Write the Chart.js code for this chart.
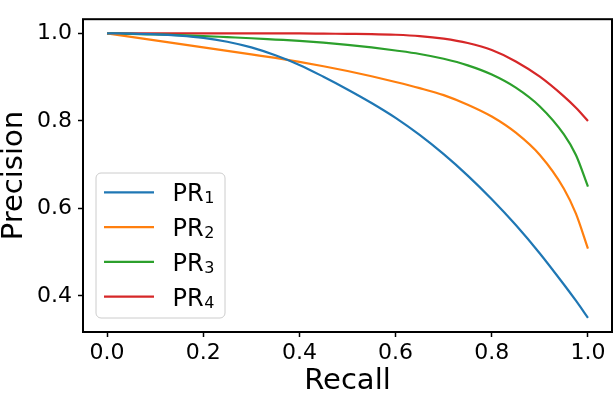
<!DOCTYPE html>
<html>
<head>
<meta charset="utf-8">
<script src="https://cdn.jsdelivr.net/npm/chart.js@4.4.0/dist/chart.umd.min.js"></script>
<style>
    html, body { margin: 0; padding: 0; background: #fff; }
    #wrap { width: 614px; height: 396px; }
</style>
</head>
<body>
<div id="wrap"><canvas id="prChart" width="614" height="396"></canvas></div>
<script>
// values
const recall = [0, 0.05, 0.1, 0.15, 0.2, 0.25, 0.3, 0.35, 0.4, 0.45, 0.5, 0.55, 0.6, 0.65, 0.7, 0.75, 0.8, 0.85, 0.9, 0.95, 0.975, 1.0];
const pr1 = [1.0, 0.9995, 0.998, 0.995, 0.990, 0.981, 0.968, 0.950, 0.928, 0.901, 0.872, 0.841, 0.807, 0.768, 0.724, 0.675, 0.621, 0.562, 0.497, 0.426, 0.389, 0.35];
const pr2 = [1.0, 0.992, 0.984, 0.976, 0.968, 0.960, 0.952, 0.944, 0.935, 0.925, 0.914, 0.902, 0.889, 0.875, 0.859, 0.837, 0.810, 0.773, 0.722, 0.645, 0.588, 0.508];
const pr3 = [1.0, 0.999, 0.9975, 0.996, 0.994, 0.9915, 0.989, 0.986, 0.983, 0.979, 0.974, 0.968, 0.961, 0.953, 0.942, 0.927, 0.906, 0.876, 0.833, 0.769, 0.722, 0.65];
const pr4 = [1.0, 1.0, 1.0, 1.0, 1.0, 1.0, 1.0, 1.0, 1.0, 0.9995, 0.999, 0.9985, 0.997, 0.994, 0.988, 0.978, 0.962, 0.936, 0.901, 0.856, 0.830, 0.80];

const seriesBase = 'PR';
const seriesSub = ['1', '2', '3', '4'];
const colors = ['#1f77b4', '#ff7f0e', '#2ca02c', '#d62728'];
const xTicks = [0, 0.2, 0.4, 0.6, 0.8, 1.0];
const yTicks = [0.4, 0.6, 0.8, 1.0];

const FONT = 'DejaVu Sans';

const series = [pr1, pr2, pr3, pr4];
const datasets = series.map((vals, i) => ({
    label: seriesBase + seriesSub[i],
    data: recall.map((r, j) => ({ x: r, y: vals[j] })),
    borderColor: colors[i],
    borderWidth: 2.2,
    pointRadius: 0,
    fill: false,
    cubicInterpolationMode: 'monotone'
}));

// matplotlib style frame + legend box in lower left
const framePlugin = {
    id: 'frame',
    afterDraw(chart) {
        const { ctx, chartArea: a } = chart;
        ctx.save();
        ctx.strokeStyle = '#000';
        ctx.lineWidth = 2;
        ctx.strokeRect(a.left, a.top, a.right - a.left, a.bottom - a.top);

        // legend
        const bx = 96, by = 173, bw = 129, bh = 145, rad = 5;
        ctx.beginPath();
        ctx.roundRect(bx, by, bw, bh, rad);
        ctx.fillStyle = 'rgba(255,255,255,0.8)';
        ctx.fill();
        ctx.strokeStyle = '#cccccc';
        ctx.lineWidth = 1;
        ctx.stroke();

        chart.data.datasets.forEach((ds, i) => {
            const y = 192.3 + i * 34.8;
            ctx.beginPath();
            ctx.moveTo(104, y);
            ctx.lineTo(154, y);
            ctx.strokeStyle = ds.borderColor;
            ctx.lineWidth = 2.2;
            ctx.stroke();

            ctx.fillStyle = '#000';
            ctx.textBaseline = 'alphabetic';
            ctx.textAlign = 'left';
            ctx.font = `24px "${FONT}"`;
            ctx.fillText(seriesBase, 172.5, y + 9);
            const w = ctx.measureText(seriesBase).width;
            ctx.font = `16px "${FONT}"`;
            ctx.fillText(seriesSub[i], 172.5 + w + 0.5, y + 11);
        });
        ctx.restore();
    }
};

new Chart(document.getElementById('prChart').getContext('2d'), {
    type: 'line',
    data: { datasets },
    options: {
        responsive: false,
        animation: false,
        layout: { padding: { top: 2, right: 2, left: 0, bottom: 0 } },
        plugins: { legend: { display: false }, tooltip: { enabled: false } },
        scales: {
            x: {
                type: 'linear',
                min: -0.05,
                max: 1.05,
                afterBuildTicks: s => { s.ticks = xTicks.map(v => ({ value: v })); },
                afterFit: s => { s.height = 64; },
                grid: { drawOnChartArea: false, drawTicks: true, tickLength: 5, tickColor: '#000', tickWidth: 1.5 },
                border: { display: false },
                ticks: {
                    color: '#000',
                    padding: 3,
                    maxRotation: 0,
                    font: { family: FONT, size: 22 },
                    callback: v => v.toFixed(1)
                },
                title: {
                    display: true,
                    text: 'Recall',
                    color: '#000',
                    padding: 0,
                    font: { family: FONT, size: 29, lineHeight: 1 }
                }
            },
            y: {
                min: 0.3175,
                max: 1.0325,
                afterBuildTicks: s => { s.ticks = yTicks.map(v => ({ value: v })); },
                afterFit: s => { s.width = 83; },
                grid: { drawOnChartArea: false, drawTicks: true, tickLength: 5, tickColor: '#000', tickWidth: 1.5 },
                border: { display: false },
                ticks: {
                    color: '#000',
                    padding: 6,
                    font: { family: FONT, size: 22 },
                    callback: v => v.toFixed(1)
                },
                title: {
                    display: true,
                    text: 'Precision',
                    color: '#000',
                    padding: 0,
                    font: { family: FONT, size: 29, lineHeight: 1 }
                }
            }
        }
    },
    plugins: [framePlugin]
});
</script>
</body>
</html>
